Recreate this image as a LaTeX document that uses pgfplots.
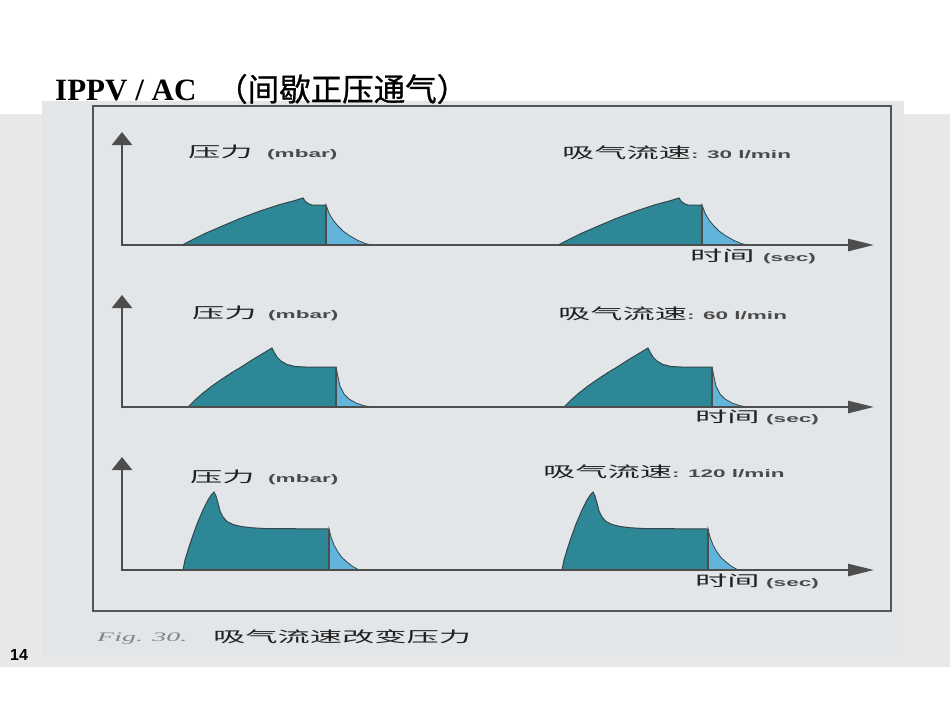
\documentclass[border=0pt]{standalone}
\usepackage{fontspec}
\usepackage{graphicx}
\usepackage{pgfplots}
\pgfplotsset{compat=1.18}
\usetikzlibrary{arrows.meta}
\setmainfont{Liberation Serif}
\newfontfamily\cjk{Noto Sans CJK SC}
\newfontfamily\cjktitle[FakeBold=0.8]{Noto Sans CJK SC}
\newfontfamily\sans{Liberation Sans}
\definecolor{band}{HTML}{E8E8E8}
\definecolor{figbg}{HTML}{E3E6E9}
\definecolor{boxgray}{HTML}{555555}
\definecolor{axisgray}{HTML}{4D4D4D}
\definecolor{darkteal}{HTML}{2E8797}
\definecolor{lightblue}{HTML}{62B4DA}
\definecolor{outline}{HTML}{33474B}
\definecolor{labblack}{HTML}{222222}
\definecolor{numgray}{HTML}{4A4A4A}
\definecolor{figgray}{HTML}{858585}
\newcommand{\wide}[1]{\scalebox{2.15}[1]{#1}}
\newcommand{\cjklab}[1]{\wide{\color{labblack}\cjk\fontsize{15bp}{15bp}\selectfont #1}}
\newcommand{\sanslab}[1]{\scalebox{2.05}[1]{\color{numgray}\sans\bfseries\fontsize{11bp}{11bp}\selectfont #1}}
\begin{document}
\begin{tikzpicture}
\begin{axis}[
  width=950bp, height=713bp, scale only axis,
  xmin=0, xmax=950, ymin=0, ymax=713, y dir=reverse,
  hide axis, clip=false]
% backgrounds
\fill[white] (axis cs:0,0) rectangle (axis cs:950,713);
\fill[band] (axis cs:0,114) rectangle (axis cs:950,667);
\fill[figbg] (axis cs:42,101) rectangle (axis cs:904,657);
\draw[boxgray, line width=1.8bp] (axis cs:93,106) rectangle (axis cs:891,611);

% ---------- Panel 1: 30 l/min ----------
\addplot[fill=darkteal, draw=outline, line width=1bp] coordinates {
 (182,245) (188,242) (195,238.5) (205,233.5) (220,227) (240,218.5) (260,211) (280,204.5) (295,200.5) (303,198)
 (305,201) (308,203.5) (312,205) (326,205) (326,245)} -- cycle;
\addplot[fill=lightblue, draw=outline, line width=0.8bp] coordinates {
 (326,205) (329,213) (333,220) (338,226) (343,231) (350,236) (358,240.5) (365,243.5) (372,245) (326,245)} -- cycle;
\addplot[fill=darkteal, draw=outline, line width=1bp] coordinates {
 (558,245) (564,242) (571,238.5) (581,233.5) (596,227) (616,218.5) (636,211) (656,204.5) (671,200.5) (679,198)
 (681,201) (684,203.5) (688,205) (702,205) (702,245)} -- cycle;
\addplot[fill=lightblue, draw=outline, line width=0.8bp] coordinates {
 (702,205) (705,213) (709,220) (714,226) (719,231) (726,236) (734,240.5) (741,243.5) (748,245) (702,245)} -- cycle;
\draw[axisgray, line width=1.8bp] (axis cs:326,205) -- (axis cs:326,245);
\draw[axisgray, line width=1.8bp] (axis cs:702,205) -- (axis cs:702,245);
\draw[axisgray, line width=2.5bp, -{Triangle[length=13bp,width=20bp]}] (axis cs:122,246) -- (axis cs:122,132);
\draw[axisgray, line width=2.5bp, -{Triangle[length=26bp,width=12bp]}] (axis cs:121,245) -- (axis cs:874,245);

% ---------- Panel 2: 60 l/min ----------
\addplot[fill=darkteal, draw=outline, line width=1bp] coordinates {
 (188,407) (195,400) (203,393) (212,386) (222,379) (232,372.5) (242,366.5) (252,360) (262,354) (272,348)
 (274,352) (277,357) (281,361) (287,364.5) (295,366.5) (305,367) (336,367) (336,407)} -- cycle;
\addplot[fill=lightblue, draw=outline, line width=0.8bp] coordinates {
 (336,367) (338,377) (340,386) (344,394) (349,399) (356,403) (364,405.7) (372,407) (336,407)} -- cycle;
\addplot[fill=darkteal, draw=outline, line width=1bp] coordinates {
 (564,407) (571,400) (579,393) (588,386) (598,379) (608,372.5) (618,366.5) (628,360) (638,354) (648,348)
 (650,352) (653,357) (657,361) (663,364.5) (671,366.5) (681,367) (712,367) (712,407)} -- cycle;
\addplot[fill=lightblue, draw=outline, line width=0.8bp] coordinates {
 (712,367) (714,377) (716,386) (720,394) (725,399) (732,403) (740,405.7) (748,407) (712,407)} -- cycle;
\draw[axisgray, line width=1.8bp] (axis cs:336,367) -- (axis cs:336,407);
\draw[axisgray, line width=1.8bp] (axis cs:712,367) -- (axis cs:712,407);
\draw[axisgray, line width=2.5bp, -{Triangle[length=13bp,width=20bp]}] (axis cs:122,408) -- (axis cs:122,295);
\draw[axisgray, line width=2.5bp, -{Triangle[length=26bp,width=12bp]}] (axis cs:121,407) -- (axis cs:874,407);

% ---------- Panel 3: 120 l/min ----------
\addplot[fill=darkteal, draw=outline, line width=1bp] coordinates {
 (183,570) (185,560) (188,550) (192,538) (197,524) (203,510) (208,500) (212,494) (214,492)
 (216,496) (218,503) (220,511) (223,517) (227,521.5) (233,524.5) (241,526.5) (252,527.8) (265,528.5) (329,529) (329,570)} -- cycle;
\addplot[fill=lightblue, draw=outline, line width=0.8bp] coordinates {
 (329,529) (331,537) (334,545) (338,552) (342,557.5) (347,562) (352,566) (359,570) (329,570)} -- cycle;
\addplot[fill=darkteal, draw=outline, line width=1bp] coordinates {
 (562,570) (564,560) (567,550) (571,538) (576,524) (582,510) (587,500) (591,494) (593,492)
 (595,496) (597,503) (599,511) (602,517) (606,521.5) (612,524.5) (620,526.5) (631,527.8) (644,528.5) (708,529) (708,570)} -- cycle;
\addplot[fill=lightblue, draw=outline, line width=0.8bp] coordinates {
 (708,529) (710,537) (713,545) (717,552) (721,557.5) (726,562) (731,566) (738,570) (708,570)} -- cycle;
\draw[axisgray, line width=1.8bp] (axis cs:329,529) -- (axis cs:329,570);
\draw[axisgray, line width=1.8bp] (axis cs:708,529) -- (axis cs:708,570);
\draw[axisgray, line width=2.5bp, -{Triangle[length=13bp,width=20bp]}] (axis cs:122,571) -- (axis cs:122,457);
\draw[axisgray, line width=2.5bp, -{Triangle[length=26bp,width=12bp]}] (axis cs:121,570) -- (axis cs:874,570);

% ---------- labels ----------
\node[anchor=base west, inner sep=0] at (axis cs:188,157) {\cjklab{压力}};
\node[anchor=base west, inner sep=0] at (axis cs:267,157) {\sanslab{(mbar)}};
\node[anchor=base west, inner sep=0] at (axis cs:562,158) {\cjklab{吸气流速}\sanslab{: 30 l/min}};
\node[anchor=base west, inner sep=0] at (axis cs:690,261) {\cjklab{时间}};
\node[anchor=base west, inner sep=0] at (axis cs:763,261) {\sanslab{(sec)}};

\node[anchor=base west, inner sep=0] at (axis cs:192,318) {\cjklab{压力}};
\node[anchor=base west, inner sep=0] at (axis cs:268,318) {\sanslab{(mbar)}};
\node[anchor=base west, inner sep=0] at (axis cs:558,319) {\cjklab{吸气流速}\sanslab{: 60 l/min}};
\node[anchor=base west, inner sep=0] at (axis cs:695,422) {\cjklab{时间}};
\node[anchor=base west, inner sep=0] at (axis cs:766,422) {\sanslab{(sec)}};

\node[anchor=base west, inner sep=0] at (axis cs:190,482) {\cjklab{压力}};
\node[anchor=base west, inner sep=0] at (axis cs:268,482) {\sanslab{(mbar)}};
\node[anchor=base west, inner sep=0] at (axis cs:543,477) {\cjklab{吸气流速}\sanslab{: 120 l/min}};
\node[anchor=base west, inner sep=0] at (axis cs:695,586) {\cjklab{时间}};
\node[anchor=base west, inner sep=0] at (axis cs:766,586) {\sanslab{(sec)}};

% caption
\node[anchor=base west, inner sep=0] at (axis cs:97,641) {\wide{\color{figgray}\itshape\fontsize{13bp}{13bp}\selectfont Fig. 30.}};
\node[anchor=base west, inner sep=0] at (axis cs:213,642) {\cjklab{吸气流速改变压力}};
\node[anchor=base west, inner sep=0] at (axis cs:10,660) {\sans\bfseries\fontsize{16bp}{16bp}\selectfont 14};

% title
\node[anchor=base west, inner sep=0] at (axis cs:55,100) {\bfseries\fontsize{31bp}{36bp}\selectfont IPPV / AC};
\node[anchor=base west, inner sep=0] at (axis cs:216,101) {\cjktitle\fontsize{31.5bp}{36bp}\selectfont （间歇正压通气）};
\end{axis}
\end{tikzpicture}
\end{document}
